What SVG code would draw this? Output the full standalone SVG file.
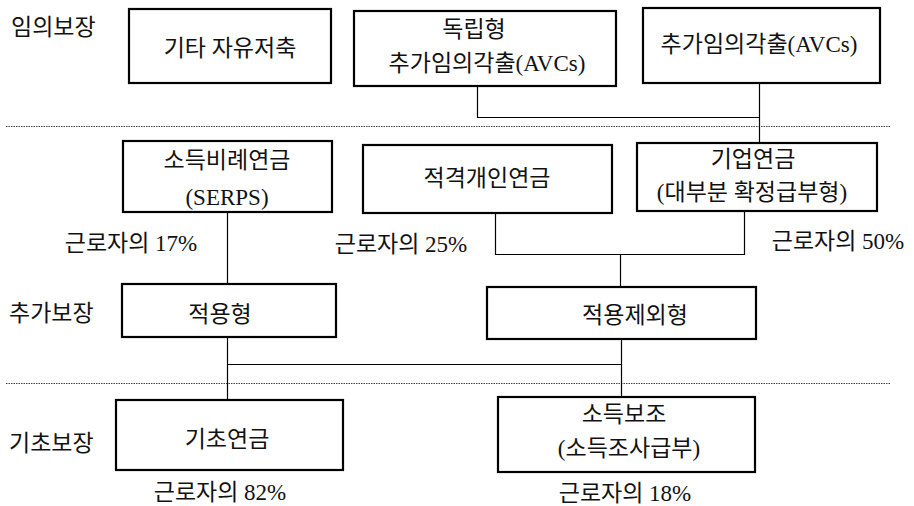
<svg xmlns="http://www.w3.org/2000/svg" width="914" height="506" viewBox="0 0 914 506">
<style>
text{font-family:"Liberation Serif","Noto Sans CJK KR",serif;font-size:23px;fill:#111;text-anchor:middle}
.lbl{text-anchor:start}
.box{fill:#fff;stroke:#000;stroke-width:2.2}
.con{fill:none;stroke:#000;stroke-width:1.2}
.sep{fill:none;stroke:#444;stroke-width:1.2;stroke-dasharray:1.5 1}
</style>
<rect width="914" height="506" fill="#fff"/>
<g id="separators">
<line class="sep" x1="6" y1="126.5" x2="891" y2="126.5"/>
<line class="sep" x1="6" y1="383.5" x2="891" y2="383.5"/>
</g>
<g id="connectors">
<polyline class="con" points="477.5,86 477.5,117.5 759.5,117.5"/>
<line class="con" x1="759.5" y1="83" x2="759.5" y2="143"/>
<line class="con" x1="227.5" y1="212" x2="227.5" y2="284"/>
<line class="con" x1="227.5" y1="337" x2="227.5" y2="400"/>
<line class="con" x1="227.5" y1="364.5" x2="621.5" y2="364.5"/>
<polyline class="con" points="495.5,213 495.5,254.5 744.5,254.5 744.5,211"/>
<line class="con" x1="620.5" y1="254.5" x2="620.5" y2="287"/>
<line class="con" x1="621.5" y1="339" x2="621.5" y2="397"/>
</g>
<g id="level-labels">
<text class="lbl" x="11" y="35">임의보장</text>
<text class="lbl" x="9" y="321">추가보장</text>
<text class="lbl" x="9" y="451">기초보장</text>
</g>
<g id="node-other-savings">
<rect class="box" x="129" y="9" width="202" height="74"/>
<text x="230" y="56">기타 자유저축</text>
</g>
<g id="node-independent-avcs">
<rect class="box" x="354" y="11" width="262" height="75"/>
<text x="474" y="37">독립형</text>
<text x="487" y="71">추가임의각출(AVCs)</text>
</g>
<g id="node-avcs">
<rect class="box" x="643" y="8" width="237" height="75"/>
<text x="759" y="52">추가임의각출(AVCs)</text>
</g>
<g id="node-serps">
<rect class="box" x="123" y="141" width="209" height="71"/>
<text x="227" y="168">소득비례연금</text>
<text x="227" y="205">(SERPS)</text>
</g>
<g id="node-personal-pension">
<rect class="box" x="363" y="145" width="249" height="68"/>
<text x="487" y="186">적격개인연금</text>
</g>
<g id="node-occupational">
<rect class="box" x="637" y="143" width="240" height="68"/>
<text x="753" y="167">기업연금</text>
<text x="752" y="200">(대부분 확정급부형)</text>
</g>
<g id="pct-labels-mid">
<text x="131" y="251">근로자의 17%</text>
<text x="401" y="252">근로자의 25%</text>
<text x="838" y="249">근로자의 50%</text>
</g>
<g id="node-contracted-in">
<rect class="box" x="122" y="284" width="214" height="53"/>
<text x="220" y="322">적용형</text>
</g>
<g id="node-contracted-out">
<rect class="box" x="487" y="287" width="269" height="52"/>
<text x="635" y="323">적용제외형</text>
</g>
<g id="node-basic-pension">
<rect class="box" x="116" y="400" width="227" height="70"/>
<text x="227" y="447">기초연금</text>
<text x="220" y="500">근로자의 82%</text>
</g>
<g id="node-income-support">
<rect class="box" x="498" y="397" width="257" height="75"/>
<text x="624" y="422">소득보조</text>
<text x="629" y="456">(소득조사급부)</text>
<text x="625" y="501">근로자의 18%</text>
</g>
</svg>
